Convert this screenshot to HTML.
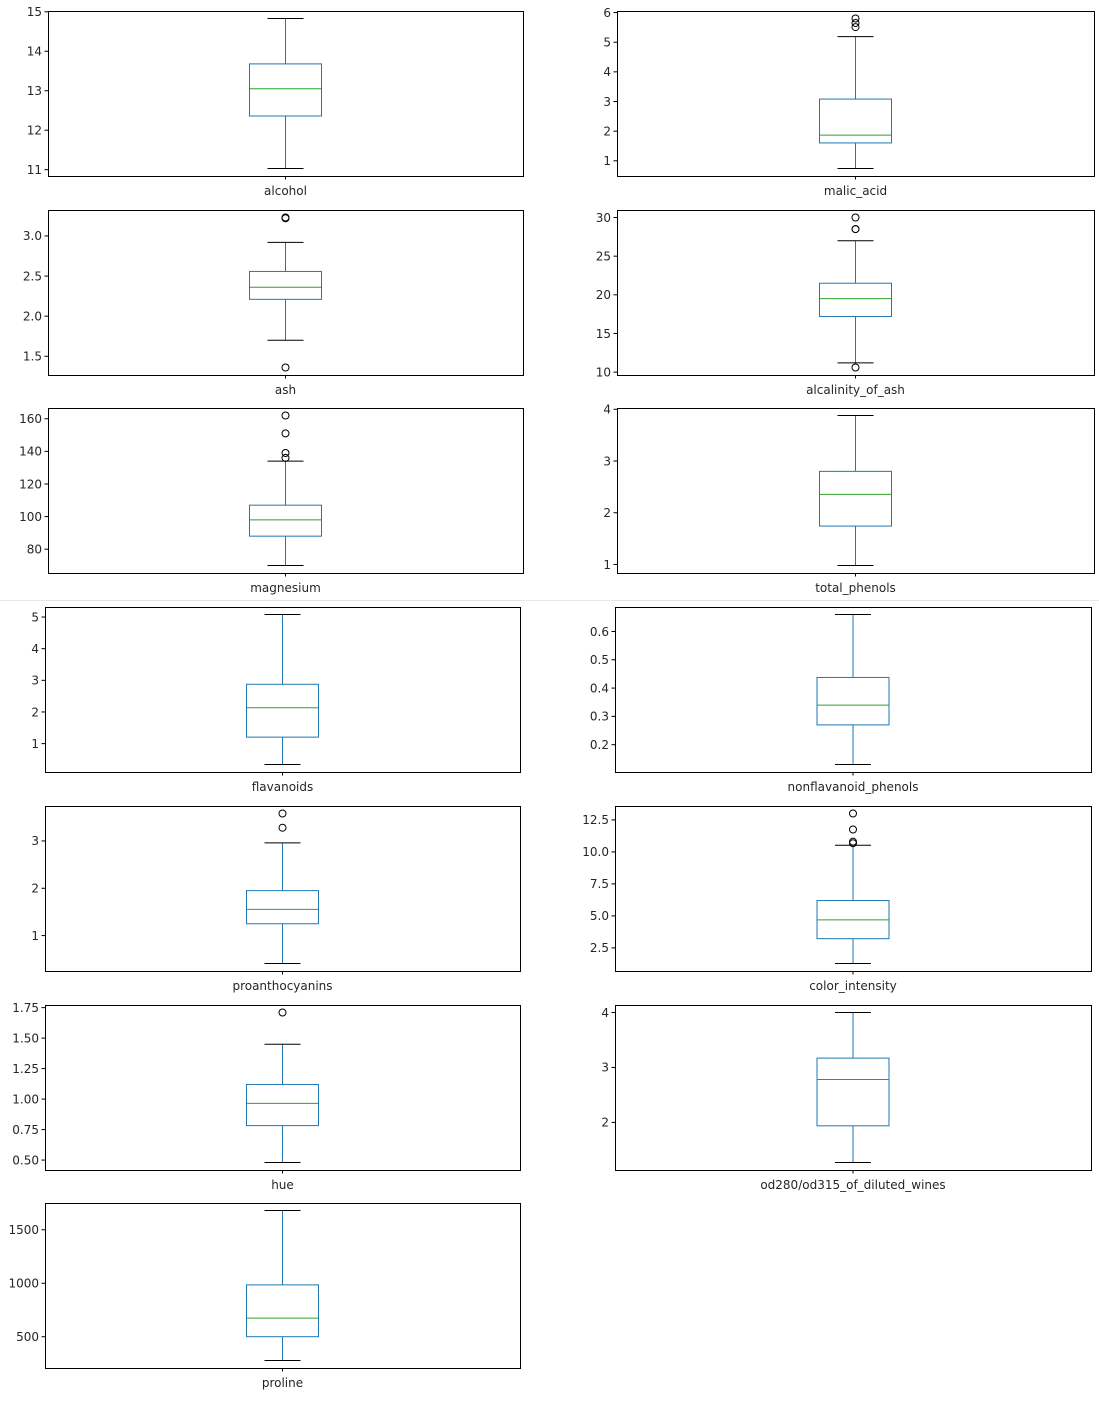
<!DOCTYPE html>
<html><head><meta charset="utf-8"><style>
body{margin:0;background:#fff;}
svg{display:block;font-family:"DejaVu Sans","Liberation Sans",sans-serif;}
</style></head><body>
<svg id="c" width="1099" height="1401"><line x1="0" x2="1099" y1="600.5" y2="600.5" stroke="#e6e6e6"/></svg>
<script>
const features=["alcohol","malic_acid","ash","alcalinity_of_ash","magnesium","total_phenols","flavanoids","nonflavanoid_phenols","proanthocyanins","color_intensity","hue","od280/od315_of_diluted_wines","proline"];
const whiskerLow=[11.03,0.74,1.70,11.2,70,0.98,0.34,0.13,0.41,1.28,0.48,1.27,278];
const q1=[12.36,1.6025,2.21,17.2,88,1.7425,1.205,0.27,1.25,3.22,0.7825,1.9375,500.5];
const median=[13.05,1.865,2.36,19.5,98,2.355,2.135,0.34,1.555,4.69,0.965,2.78,673.5];
const q3=[13.68,3.0825,2.5575,21.5,107,2.80,2.875,0.4375,1.95,6.2,1.12,3.17,985];
const whiskerHigh=[14.83,5.19,2.92,27.0,134,3.88,5.08,0.66,2.96,10.52,1.45,4.0,1680];
const outliers=[[],[5.51,5.65,5.80],[1.36,3.22,3.23],[10.6,28.5,28.5,30],[136,139,151,162],[],[],[],[3.28,3.58],[10.68,10.8,11.75,13.0],[1.71],[],[]];
const tickLabels=[["11","12","13","14","15"],["1","2","3","4","5","6"],["1.5","2.0","2.5","3.0"],["10","15","20","25","30"],["80","100","120","140","160"],["1","2","3","4"],["1","2","3","4","5"],["0.2","0.3","0.4","0.5","0.6"],["1","2","3"],["2.5","5.0","7.5","10.0","12.5"],["0.50","0.75","1.00","1.25","1.50","1.75"],["2","3","4"],["500","1000","1500"]];
const svg=document.getElementById('c');const NS='http://www.w3.org/2000/svg';
function mk(t,a,p){const e=document.createElementNS(NS,t);for(const k in a)e.setAttribute(k,a[k]);(p||svg).appendChild(e);return e;}
const tops=[11,210,408,607,806,1005,1203];
features.forEach((f,i)=>{
  const row=Math.floor(i/2),col=i%2;
  const lower=row>=3;
  const x0=col===0?(lower?45:48):(lower?615:617);
  const x1=col===0?(lower?520:523):(lower?1091:1094);
  const y0=tops[row],y1=y0+165;
  const g=mk('g',{});
  
  
  let lo=Math.min(whiskerLow[i],...outliers[i]),hi=Math.max(whiskerHigh[i],...outliers[i]);
  const sp=hi-lo;lo-=sp*0.05;hi+=sp*0.05;
  const y=v=>y1-(v-lo)/(hi-lo)*(y1-y0);
  const cx=(x0+x1)/2;
  const frame=mk('rect',{x:x0+0.5,y:y0+0.5,width:x1-x0,height:y1-y0,fill:'none',stroke:'#000','stroke-width':1},g);
  
  tickLabels[i].forEach(t=>{const v=parseFloat(t);const yy=y(v);
    mk('line',{x1:x0-3.5,x2:x0,y1:yy,y2:yy,stroke:'#000'},g);
    const tx=mk('text',{x:x0-6,y:yy+4.3,'text-anchor':'end','font-size':'12',fill:'#262626'},g);
    tx.textContent=t;});
  mk('line',{x1:cx,x2:cx,y1:y1,y2:y1+3.5,stroke:'#000'},g);
  const xl=mk('text',{x:cx,y:y1+19,'text-anchor':'middle','font-size':'12',fill:'#262626'},g);
  xl.textContent=f;
  const bw=72;
  mk('line',{x1:cx,x2:cx,y1:y(q3[i]),y2:y(whiskerHigh[i]),stroke:'#1f77b4'},g);
  mk('line',{x1:cx,x2:cx,y1:y(q1[i]),y2:y(whiskerLow[i]),stroke:'#1f77b4'},g);
  [whiskerHigh[i],whiskerLow[i]].forEach(v=>mk('line',{x1:cx-18,x2:cx+18,y1:y(v),y2:y(v),stroke:'#000'},g));
  const box=mk('rect',{x:cx-bw/2,y:y(q3[i]),width:bw,height:y(q1[i])-y(q3[i]),fill:'none',stroke:'#1f77b4'},g);
  
  const md=mk('line',{x1:cx-bw/2,x2:cx+bw/2,y1:y(median[i]),y2:y(median[i]),stroke:'#2ca02c'},g);
  
  outliers[i].forEach(v=>{const c=mk('circle',{cx:cx,cy:y(v),r:3.5,fill:'none',stroke:'#000'},g);
    });
});
</script>
</body></html>
